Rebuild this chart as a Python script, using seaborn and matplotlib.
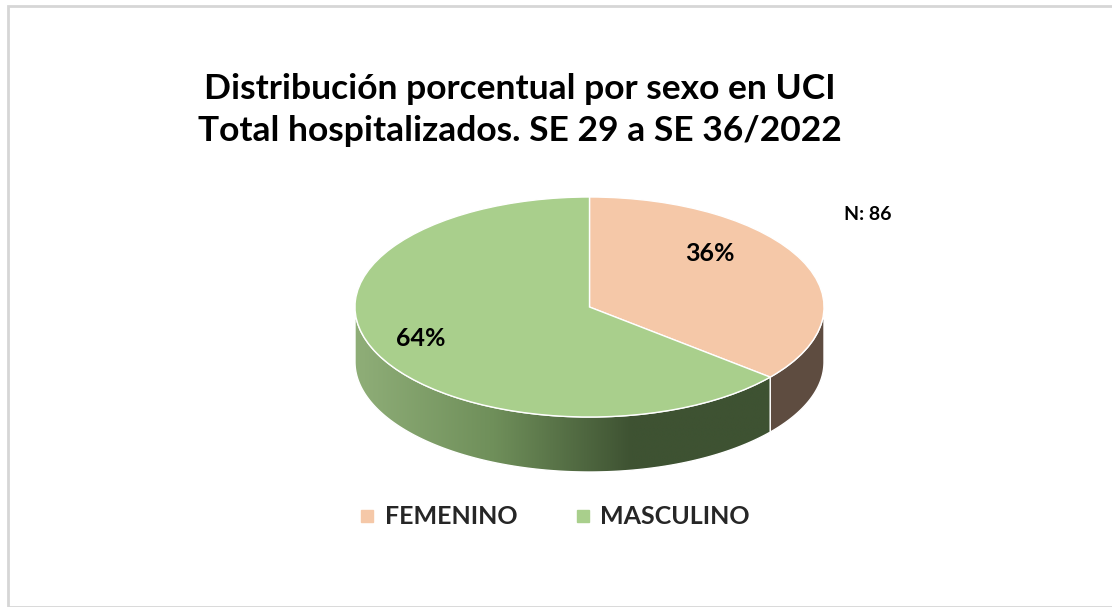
import numpy as np
import matplotlib
matplotlib.use("Agg")
import matplotlib.pyplot as plt
from matplotlib.patches import Polygon, Rectangle
from matplotlib.colors import LinearSegmentedColormap
import seaborn as sns

# datos
categorias = ["FEMENINO", "MASCULINO"]
porcentajes = [36, 64]
total_n = 86
titulo = "Distribución porcentual por sexo en UCI\nTotal hospitalizados. SE 29 a SE 36/2022"

colores_top = ["#f5c8a8", "#a9cf8c"]
color_lado_fem = "#5e4c40"
grad_masc = ["#8fae78", "#6f8f5a", "#3e5232", "#3e5232"]

sns.set_theme(style="white")
plt.rcParams["font.family"] = ["Lato", "DejaVu Sans"]

W, H = 1112, 607
fig = plt.figure(figsize=(W / 100, H / 100), dpi=100)
fig.patch.set_facecolor("white")

# marco gris
fig.add_artist(Rectangle((8 / W, 0), 1, 1 - 6 / H, transform=fig.transFigure,
                         fill=False, edgecolor="#d6d6d6", linewidth=2))

# ejes del pastel (cara superior elipse + lateral)
x0, x1 = 355, 824
y_top, y_bot = 197, 472
b_px = 110.0
depth = (y_bot - y_top - 2 * b_px) / b_px
ax = fig.add_axes([x0 / W, 1 - y_bot / H, (x1 - x0) / W, (y_bot - y_top) / H])
ax.set_xlim(-1, 1)
ax.set_ylim(-1 - depth, 1)
ax.axis("off")

# angulos de los cortes (empieza arriba, sentido horario)
fracs = np.array(porcentajes) / sum(porcentajes)
bordes = 90 - 360 * np.concatenate([[0], np.cumsum(fracs)])


def banda(t0, t1):
    lo, hi = max(min(t0, t1), -180), min(max(t0, t1), 0)
    if hi <= lo:
        return None
    t = np.radians(np.linspace(lo, hi, 200))
    top = np.column_stack([np.cos(t), np.sin(t)])
    bot = np.column_stack([np.cos(t[::-1]), np.sin(t[::-1]) - depth])
    return np.vstack([top, bot])


# lateral femenino
pts = banda(bordes[1], 0)
if pts is not None:
    ax.add_patch(Polygon(pts, closed=True, facecolor=color_lado_fem,
                         edgecolor="white", linewidth=1, zorder=1))

# lateral masculino con degradado
pts = banda(-180, bordes[1])
if pts is not None:
    poly = Polygon(pts, closed=True, facecolor="none", edgecolor="white",
                   linewidth=1, zorder=2)
    ax.add_patch(poly)
    cmap = LinearSegmentedColormap.from_list("g", grad_masc)
    grad = np.linspace(0, 1, 256).reshape(1, -1)
    im = ax.imshow(grad, cmap=cmap, extent=[-1, np.cos(np.radians(bordes[1])), -1 - depth, 0],
                   aspect="auto", zorder=1)
    im.set_clip_path(poly)

# cara superior
wedges, _ = ax.pie(porcentajes, colors=colores_top, startangle=90, counterclock=False,
                   radius=1, center=(0, 0),
                   wedgeprops=dict(edgecolor="white", linewidth=1))
ax.set_aspect("auto")
ax.set_xlim(-1, 1)
ax.set_ylim(-1 - depth, 1)
for w in wedges:
    w.set_zorder(3)

# etiquetas de porcentaje
pos_etiquetas = [(0.515, 0.49), (-0.72, -0.29)]
for (px, py), v in zip(pos_etiquetas, porcentajes):
    ax.text(px, py, f"{v}%", ha="center", va="center", fontsize=18,
            fontweight="bold", color="black", zorder=5)

# titulo
fig.text(520 / W, 1 - 110 / H, titulo, ha="center", va="center", fontsize=25.5,
         fontweight="bold", color="black", linespacing=1.35)

# N
fig.text(868 / W, 1 - 214 / H, f"N: {total_n}", ha="center", va="center",
         fontsize=14, fontweight="bold", color="black")

# leyenda
handles = [plt.Line2D([], [], marker="s", linestyle="none", markersize=8,
                      markerfacecolor=c, markeredgecolor=c) for c in colores_top]
fig.legend(handles, categorias, loc="center", bbox_to_anchor=(551 / W, 1 - 517 / H),
           ncol=2, frameon=False, handletextpad=0.1, columnspacing=2.0,
           handlelength=1.2, prop=dict(weight="bold", size=18))

fig.savefig("out.png", dpi=100, facecolor="white")
